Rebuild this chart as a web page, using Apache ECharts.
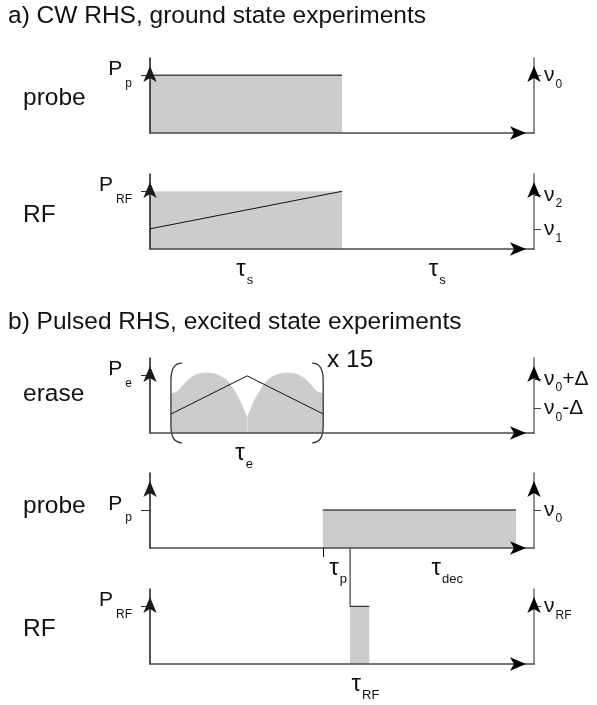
<!DOCTYPE html>
<html>
<head>
<meta charset="utf-8">
<script src="https://cdn.jsdelivr.net/npm/echarts@6/dist/echarts.min.js"></script>
<style>
  html, body { margin: 0; padding: 0; background: #ffffff; }
  #chart { width: 597px; height: 705px; }
</style>
</head>
<body>
<div id="chart"></div>
<script>
// Timing diagrams for RHS experiments.
// Time runs 0..1 across every panel; power and frequency share a 0..1.3 scale.

// a) CW RHS
const cwProbePower = [[0, 1], [0.5, 1]];
const cwRfPower = [[0, 1], [0.5, 1]];
const cwRfChirp = [[0, 0.35], [0.5, 1.0]];

// b) pulsed RHS: erase block (power envelope and triangular sweep)
const eraseEnvelopeLeft = [
  [0.055, 0.69], [0.07, 0.72], [0.086, 0.83], [0.104, 0.95], [0.122, 1.02],
  [0.148, 1.045], [0.174, 1.02], [0.200, 0.92], [0.216, 0.78], [0.234, 0.57],
  [0.245, 0.40], [0.2525, 0.29]
];
const eraseEnvelopeRight = [
  [0.2535, 0.29], [0.261, 0.40], [0.272, 0.57], [0.290, 0.78], [0.306, 0.92],
  [0.332, 1.02], [0.358, 1.045], [0.384, 1.02], [0.402, 0.95], [0.420, 0.83],
  [0.436, 0.72], [0.451, 0.69]
];
const eraseSweep = [[0.055, 0.33], [0.253, 0.99], [0.451, 0.33]];
const eraseBracketTimes = [0.0545, 0.451];
const eraseBracketSpan = [-0.17, 1.21];

const pulsedProbePower = [[0.45, 0.66], [0.953, 0.66]];
const rfPulsePower = [[0.521, 1], [0.571, 1]];
const rfPulseMarker = [[0.521, 2.01], [0.521, 1], [0.571, 1]];
const probeStartTicks = [0.45];

// axis levels and labels, one entry per panel
const rowNames = ['probe', 'RF', 'erase', 'probe', 'RF'];
const rowNameCenters = [98, 215, 394, 506, 629];
const baselines = [133, 249, 433, 548, 664];
const powerLevels = [1, 1, 1, 0.66, 1];
const powerSubs = ['p', 'RF', 'e', 'p', 'RF'];
const freqLevels = [[1], [0.34, 0.94], [0.43, 0.94], [0.66], [1]];
const freqLabels = [
  [['ν', '0', '']],
  [['ν', '1', ''], ['ν', '2', '']],
  [['ν', '0', '-Δ'], ['ν', '0', '+Δ']],
  [['ν', '0', '']],
  [['ν', 'RF', '']]
];
const timeLabelPos = [[], [0.247, 0.748], [0.245], [0.49, 0.774], [0.561]];
const timeLabelSubs = [[], ['s', 's'], ['e'], ['p', 'dec'], ['RF']];

const FONT = '"Liberation Sans", Arial, Helvetica, sans-serif';
const INK = '#111111';
const FILL = '#cccccc';
const N = baselines.length;

const chart = echarts.init(document.getElementById('chart'), null, { renderer: 'canvas' });

const arrowLine = (color, width) => ({
  show: true,
  onZero: false,
  symbol: ['none', 'arrow'],
  symbolSize: [10, 16],
  symbolOffset: [0, -8],
  lineStyle: { color: color, width: width }
});
const plainLine = (color) => ({ show: true, onZero: false, lineStyle: { color: color, width: 1.5 } });
const hidden = { show: false };

const grids = [], xAxes = [], yAxes = [];
baselines.forEach((b, i) => {
  grids.push({ left: 150, right: 63, top: b - 75, height: 75 });

  const tPos = timeLabelPos[i];
  xAxes.push({
    type: 'value', gridIndex: i, position: 'bottom', min: 0, max: 1, z: 5,
    axisLine: plainLine('#4a4a4a'),
    splitLine: hidden,
    axisTick: {
      show: i === 3, customValues: probeStartTicks, length: 9, inside: false,
      lineStyle: { color: INK, width: 1 }
    },
    axisLabel: {
      show: tPos.length > 0,
      customValues: tPos,
      hideOverlap: false, showMinLabel: true, showMaxLabel: true,
      margin: 8,
      formatter: (v) => {
        let k = 0;
        tPos.forEach((p, j) => { if (Math.abs(p - v) < Math.abs(tPos[k] - v)) k = j; });
        return '{t|τ}{s|' + timeLabelSubs[i][k] + '}';
      },
      rich: {
        t: { fontFamily: FONT, fontSize: 24, lineHeight: 24, color: INK },
        s: { fontFamily: FONT, fontSize: 13, lineHeight: 13, color: INK, padding: [22, 0, 0, 1] }
      }
    }
  });
});
// black arrow heads on the time axes
baselines.forEach((b, i) => {
  xAxes.push({
    type: 'value', gridIndex: i, position: 'bottom', min: 0, max: 1, z: 6,
    axisLine: arrowLine('#000000', 0), axisTick: hidden, axisLabel: hidden, splitLine: hidden
  });
});

// power axes (left): indices 0..N-1
baselines.forEach((b, i) => {
  yAxes.push({
    type: 'value', gridIndex: i, position: 'left', min: 0, max: 1.3, z: 5,
    axisLine: arrowLine('#1a1a1a', 1.5),
    splitLine: hidden,
    axisTick: { show: true, customValues: [powerLevels[i]], length: 9, lineStyle: { color: '#333', width: 1 } },
    axisLabel: {
      show: true, customValues: [powerLevels[i]], margin: 18, align: 'right',
      hideOverlap: false,
      formatter: () => '{m|P}{s|' + powerSubs[i] + '}',
      rich: {
        m: { fontFamily: FONT, fontSize: 21, lineHeight: 21, color: INK, padding: [0, 0, 12, 0] },
        s: { fontFamily: FONT, fontSize: 12, lineHeight: 12, color: INK, padding: [16, 0, 0, 3] }
      }
    }
  });
});

// frequency axes (right): indices N..2N-1 carry the line
baselines.forEach((b, i) => {
  yAxes.push({
    type: 'value', gridIndex: i, position: 'right', min: 0, max: 1.3, z: 5,
    axisLine: plainLine('#6e6e6e'),
    splitLine: hidden, axisTick: hidden, axisLabel: hidden
  });
});
// black arrow heads on the frequency axes
baselines.forEach((b, i) => {
  yAxes.push({
    type: 'value', gridIndex: i, position: 'right', min: 0, max: 1.3, z: 6,
    axisLine: arrowLine('#000000', 0), axisTick: hidden, axisLabel: hidden, splitLine: hidden
  });
});
// one marked frequency per axis, so neighbouring labels never compete
baselines.forEach((b, i) => {
  freqLevels[i].forEach((level, k) => {
    const l = freqLabels[i][k];
    yAxes.push({
      type: 'value', gridIndex: i, position: 'right', min: 0, max: 1.3, z: 5,
      axisLine: { show: false, onZero: false },
      splitLine: hidden,
      axisTick: { show: true, customValues: [level], length: 7, lineStyle: { color: '#444', width: 1 } },
      axisLabel: {
        show: true, customValues: [level], margin: 10, align: 'left', hideOverlap: false,
        formatter: () => '{m|' + l[0] + '}{s|' + l[1] + '}' + (l[2] ? '{m|' + l[2] + '}' : ''),
        rich: {
          m: { fontFamily: FONT, fontSize: 21, lineHeight: 21, color: INK },
          s: { fontFamily: FONT, fontSize: 12, lineHeight: 12, color: INK, padding: [18, 0, 0, 1] }
        }
      }
    });
  });
});

const areaSeries = (data, grid, edge) => ({
  type: 'line', xAxisIndex: grid, yAxisIndex: grid, data: data,
  symbol: 'none', z: 1, silent: true,
  lineStyle: edge ? { color: '#4a4a4a', width: 1.5 } : { width: 0, opacity: 0 },
  areaStyle: { color: FILL, opacity: 1 }
});

const traceSeries = (data, grid, yIndex) => ({
  type: 'line', xAxisIndex: grid, yAxisIndex: yIndex, data: data,
  symbol: 'none', z: 3, silent: true, clip: false,
  lineStyle: { color: INK, width: 1 }
});

// round brackets around the repeated erase block
const bracketSeries = {
  type: 'custom', xAxisIndex: 2, yAxisIndex: 2, silent: true, clip: false, z: 4,
  data: eraseBracketTimes.map((t, k) => [t, k]),
  renderItem: (params, api) => {
    const t = api.value(0);
    const dir = api.value(1) === 0 ? 1 : -1;
    const top = api.coord([t, eraseBracketSpan[1]]);
    const bot = api.coord([t, eraseBracketSpan[0]]);
    const curl = 11 * dir, bend = 17;
    const d = 'M' + (top[0] + curl) + ' ' + top[1] +
      ' Q' + top[0] + ' ' + top[1] + ' ' + top[0] + ' ' + (top[1] + bend) +
      ' L' + bot[0] + ' ' + (bot[1] - bend) +
      ' Q' + bot[0] + ' ' + bot[1] + ' ' + (bot[0] + curl) + ' ' + bot[1];
    return { type: 'path', shape: { pathData: d }, style: { fill: 'none', stroke: '#333', lineWidth: 1.3 } };
  }
};

const series = [
  areaSeries(cwProbePower, 0, true),
  areaSeries(cwRfPower, 1, false),
  traceSeries(cwRfChirp, 1, N + 1),
  Object.assign(areaSeries(eraseEnvelopeLeft, 2, false), { smooth: 0.4 }),
  Object.assign(areaSeries(eraseEnvelopeRight, 2, false), { smooth: 0.4 }),
  traceSeries(eraseSweep, 2, N + 2),
  bracketSeries,
  areaSeries(pulsedProbePower, 3, true),
  areaSeries(rfPulsePower, 4, false),
  traceSeries(rfPulseMarker, 4, 4)
];

const textTitle = (text, left, top) => ({
  text: text, left: left, top: top, padding: 0,
  textStyle: { fontFamily: FONT, fontSize: 24.5, lineHeight: 26, fontWeight: 'normal', color: INK }
});

const titles = [
  textTitle('a) CW RHS, ground state experiments', 8, 3),
  textTitle('b) Pulsed RHS, excited state experiments', 8, 309),
  textTitle('x 15', 327, 347)
];
rowNames.forEach((name, i) => titles.push(textTitle(name, 23, rowNameCenters[i] - 13)));

chart.setOption({
  animation: false,
  backgroundColor: '#ffffff',
  title: titles,
  grid: grids,
  xAxis: xAxes,
  yAxis: yAxes,
  series: series
});
</script>
</body>
</html>
